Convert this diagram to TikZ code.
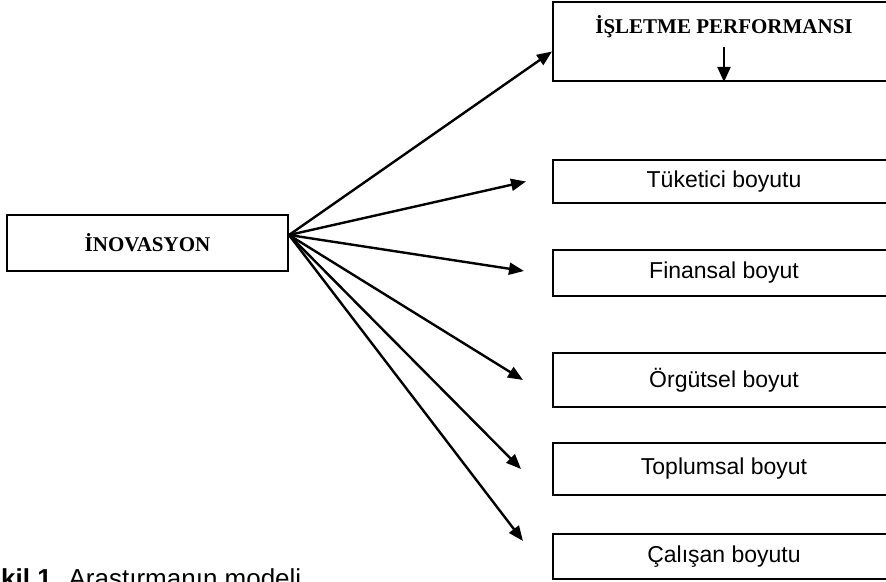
\documentclass[tikz,border=0pt]{standalone}
\usepackage{fontspec}
\setmainfont{Liberation Sans}
\newfontfamily\tnr{Liberation Serif}
\usetikzlibrary{arrows.meta,positioning}

\begin{document}
\begin{tikzpicture}[x=1pt,y=1pt,node distance=90pt,on grid,
    box/.style={draw,line width=2pt,minimum width=342pt,inner sep=0pt,
      font=\fontsize{23}{26}\selectfont},
    head/.style={font=\tnr\bfseries\fontsize{21}{24}\selectfont},
    link/.style={-{Triangle[length=15pt,width=12pt]},line width=2.4pt}]
    \clip (0,0) rectangle (886,581);
    \node[box,minimum height=79pt] (perf)    at (724,539.5)            {};
    \node[head] (perft)   [below=11pt of perf.north]                  {İŞLETME PERFORMANSI};
    \node[box,minimum height=43pt] (tuket)   [below=140pt of perf]    {Tüketici boyutu};
    \node[box,minimum height=46pt] (finans)  [below=91.5pt of tuket]  {Finansal boyut};
    \node[box,minimum height=54pt] (orgut)   [below=107pt of finans]  {Örgütsel boyut};
    \node[box,minimum height=52pt] (toplum)  [below=89pt of orgut]    {Toplumsal boyut};
    \node[box,minimum height=45pt] (calisan) [below=87.5pt of toplum] {Çalışan boyutu};
    \node[box,head,minimum width=281pt,minimum height=56pt] (inov) at (147.5,338) {İNOVASYON};
    \coordinate (hub) at ([yshift=8pt]inov.east);
    % arrow inside the top box
    \draw[-{Triangle[length=15pt,width=13pt]},line width=2pt] ([yshift=-20pt]perft.center) -- (perf.south);
    % arrows from the left box
    \draw[link] (hub) -- ([yshift=-10pt]perf.west);
    \draw[link] (hub) -- ([xshift=-26pt]tuket.west);
    \draw[link] (hub) -- ([xshift=-28pt,yshift=2pt]finans.west);
    \draw[link] (hub) -- ([xshift=-29pt]orgut.west);
    \draw[link] (hub) -- ([xshift=-31pt]toplum.west);
    \draw[link] (hub) -- ([xshift=-29pt,yshift=15.5pt]calisan.west);
    % caption, cut at the edge
    \node[anchor=base west,inner sep=0pt,font=\fontsize{26}{30}\selectfont] (capt) at (1,-6)
      {\llap{\textbf{Şe}}\textbf{kil 1.} Araştırmanın modeli};
  \end{tikzpicture}
\end{document}
